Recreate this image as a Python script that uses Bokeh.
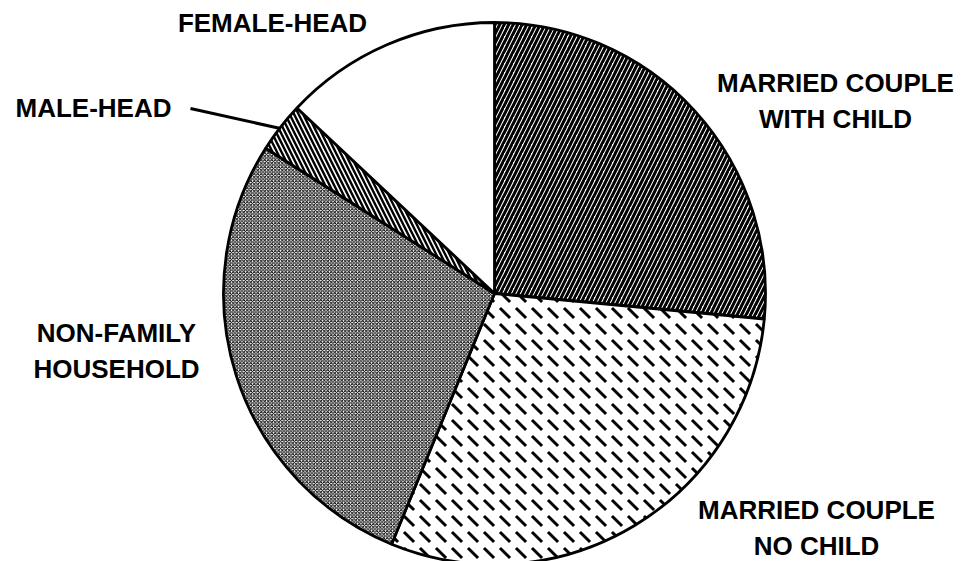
import math
from bokeh.plotting import figure
from bokeh.models import Range1d, ColumnDataSource
from bokeh.core.properties import value
from bokeh.embed import file_html
from bokeh.resources import INLINE

# ---- data (percent of households), clockwise from 12 o'clock ----
categories = ["MARRIED COUPLE\nWITH CHILD", "MARRIED COUPLE\nNO CHILD",
              "NON-FAMILY\nHOUSEHOLD", "MALE-HEAD", "FEMALE-HEAD"]
shares = [26.5, 29.7, 27.8, 3.0, 13.0]

# ---- layout (page pixel coords, y measured downward) ----
W, H = 963, 561
cx_img, cy_img, R = 494, 293, 271
label_pos = [(835, 100), (816, 527), (116, 350), (93, 107), (272, 22)]
leader = [(190, 108), (280, 128)]

def fy(y):  # image y (down) -> data y (up)
    return H - y

p = figure(width=W, height=H, output_backend="svg", toolbar_location=None,
           x_range=Range1d(0, W), y_range=Range1d(0, H),
           min_border=0)
p.axis.visible = False
p.grid.visible = False
p.outline_line_color = None
p.background_fill_color = "white"
p.border_fill_color = "white"

total = sum(shares)
starts, ends = [], []
cum = 0.0
for s in shares:
    a0 = math.radians(90 - (cum + s) / total * 360)
    a1 = math.radians(90 - cum / total * 360)
    starts.append(a0)
    ends.append(a1)
    cum += s

styles = [
    dict(hatch_pattern="/", hatch_scale=9, hatch_weight=3.0),
    dict(hatch_pattern="`", hatch_scale=16, hatch_weight=3.0),
    dict(hatch_pattern="x", hatch_scale=3.5, hatch_weight=1.0),
    dict(hatch_pattern="\\", hatch_scale=9, hatch_weight=2.4),
    dict(),
]

cx, cy = cx_img, fy(cy_img)
for i in range(len(shares)):
    p.wedge(x=cx, y=cy, radius=R, start_angle=starts[i], end_angle=ends[i],
            fill_color="white", hatch_color="black", line_color=None,
            **styles[i])
    p.wedge(x=cx, y=cy, radius=R, start_angle=starts[i], end_angle=ends[i],
            fill_color=None, line_color="black", line_width=2.8)

p.line(x=[leader[0][0], leader[1][0]], y=[fy(leader[0][1]), fy(leader[1][1])],
       line_color="black", line_width=3)

src = ColumnDataSource(dict(text=categories,
                            x=[lp[0] for lp in label_pos],
                            y=[fy(lp[1]) for lp in label_pos]))
p.text(x="x", y="y", text="text", source=src, text_align="center",
       text_baseline="middle", text_font=value("Liberation Sans"),
       text_font_style="bold", text_font_size="26px", text_color="black",
       text_line_height=1.2)

open("out.html", "w").write(file_html(p, INLINE))
